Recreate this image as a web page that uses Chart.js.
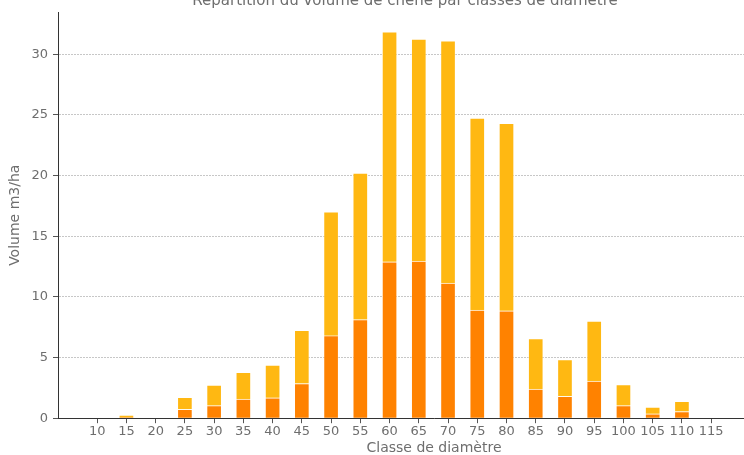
<!DOCTYPE html>
<html>
<head>
<meta charset="utf-8">
<script src="https://cdn.jsdelivr.net/npm/chart.js@4"></script>
<style>
    html, body { margin: 0; padding: 0; background: #fff; }
    #wrap { position: relative; width: 744px; height: 455px; overflow: hidden; }
    #chart { position: absolute; left: 0; top: -15px; }
</style>
</head>
<body>
<div id="wrap"><canvas id="chart" width="810" height="472"></canvas></div>
<script>
// classes de diamètre (cm)
const classes = [10, 15, 20, 25, 30, 35, 40, 45, 50, 55, 60, 65, 70, 75, 80, 85, 90, 95, 100, 105, 110, 115];
// partie basse (orange)
const volBas = [0, 0.05, 0, 0.74, 1.04, 1.57, 1.68, 2.86, 6.8, 8.13, 12.89, 12.94, 11.13, 8.9, 8.85, 2.39, 1.81, 3.05, 1.04, 0.36, 0.55, 0];
// partie haute (jaune)
const volHaut = [0, 0.2, 0, 0.99, 1.68, 2.2, 2.69, 4.39, 10.2, 12.07, 18.96, 18.3, 19.97, 15.83, 15.45, 4.17, 3.03, 4.95, 1.74, 0.55, 0.85, 0];

const yMax = 33.45;
const xMin = 3.3;
const xMax = 131.9;

const fontFamily = "'DejaVu Sans', sans-serif";
const grey = '#6e6e6e';

function toPoints(arr) {
    return classes.map((c, i) => ({ x: c, y: arr[i] }));
}

window.onload = () => {
    const ctx = document.getElementById('chart').getContext('2d');

    new Chart(ctx, {
        type: 'bar',
        data: {
            datasets: [
                {
                    label: 'Volume bas',
                    data: toPoints(volBas),
                    backgroundColor: 'rgb(255, 130, 0)',
                    borderColor: 'rgba(255, 255, 255, 0.35)',
                    borderWidth: 1,
                    barThickness: 15
                },
                {
                    label: 'Volume haut',
                    data: toPoints(volHaut),
                    backgroundColor: 'rgb(255, 184, 18)',
                    borderColor: 'rgba(255, 255, 255, 0.35)',
                    borderWidth: 1,
                    barThickness: 15
                }
            ]
        },
        options: {
            responsive: false,
            animation: false,
            layout: { padding: 0 },
            plugins: {
                legend: { display: false },
                tooltip: { enabled: false },
                title: {
                    display: true,
                    text: 'Répartition du volume de chêne par classes de diamètre',
                    color: grey,
                    font: { family: fontFamily, size: 15, weight: 'normal' },
                    padding: { top: 7, bottom: 2.3 }
                }
            },
            scales: {
                x: {
                    type: 'linear',
                    stacked: true,
                    offset: false,
                    min: xMin,
                    max: xMax,
                    afterBuildTicks: (axis) => {
                        axis.ticks = classes.map(v => ({ value: v }));
                    },
                    grid: {
                        display: true,
                        offset: false,
                        drawOnChartArea: false,
                        drawTicks: true,
                        tickLength: 5,
                        tickColor: '#555'
                    },
                    border: { display: true, color: '#333', width: 1 },
                    ticks: {
                        color: grey,
                        padding: 2,
                        maxRotation: 0,
                        autoSkip: false,
                        font: { family: fontFamily, size: 13, lineHeight: 1 }
                    },
                    title: {
                        display: true,
                        text: 'Classe de diamètre',
                        color: grey,
                        font: { family: fontFamily, size: 14 },
                        padding: { top: 0, bottom: 0 }
                    }
                },
                y: {
                    stacked: true,
                    min: 0,
                    max: yMax,
                    afterFit: (scale) => { scale.width = 58; },
                    afterBuildTicks: (axis) => {
                        axis.ticks = [0, 5, 10, 15, 20, 25, 30].map(v => ({ value: v }));
                    },
                    grid: {
                        color: 'rgba(0, 0, 0, 0.22)',
                        lineWidth: 1,
                        drawTicks: true,
                        tickLength: 5,
                        tickColor: '#555',
                        tickBorderDash: []
                    },
                    border: { display: true, color: '#333', width: 1, dash: [2, 1] },
                    ticks: {
                        color: grey,
                        padding: 5,
                        font: { family: fontFamily, size: 13 }
                    },
                    title: {
                        display: true,
                        text: 'Volume m3/ha',
                        color: grey,
                        font: { family: fontFamily, size: 14 },
                        padding: { top: 7, bottom: 0 }
                    }
                }
            }
        }
    });
};
</script>
</body>
</html>
